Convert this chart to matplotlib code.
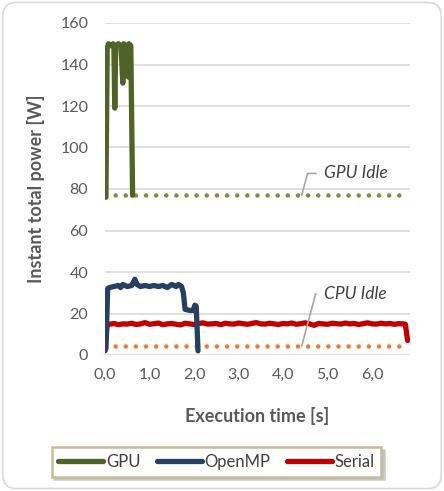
import matplotlib
matplotlib.use("Agg")
import matplotlib.pyplot as plt
from matplotlib.patches import FancyBboxPatch
from matplotlib.lines import Line2D

plt.rcParams['font.family'] = ['Lato', 'DejaVu Sans']

# GPU run
gpu_t = [0.0, 0.02, 0.05, 0.08, 0.12, 0.18, 0.2, 0.22, 0.24, 0.3, 0.36, 0.4, 0.42,
         0.48, 0.52, 0.54, 0.58, 0.62]
gpu_w = [77, 76, 148, 150, 149, 150, 148, 119, 149, 150, 149, 131, 150,
         149, 134, 150, 149, 77]

# OpenMP run
omp_t = [0.02, 0.06, 0.1, 0.2, 0.3, 0.35, 0.4, 0.5, 0.6, 0.67, 0.72, 0.8, 0.9, 1.0,
         1.1, 1.2, 1.3, 1.4, 1.5, 1.6, 1.65, 1.72, 1.76, 1.8, 1.9, 1.98, 2.02, 2.05, 2.09]
omp_w = [3, 32, 32.5, 33, 33.5, 32.5, 34, 33, 33.5, 36.5, 34, 33, 33.5, 33,
         33.5, 33, 33.5, 32.5, 34, 33, 34, 33, 30, 22, 21.5, 21.5, 24, 23.5, 2]

# Serial run
serial_mid = [14.8, 15.2, 14.6, 15.0, 14.9, 15.3, 14.7, 15.0, 15.6, 14.8, 15.1, 15.4,
              14.6, 15.0, 15.2, 14.8, 14.5, 15.3, 15.0, 14.7, 15.1, 15.5, 14.9, 15.0,
              15.2, 14.6, 15.3, 15.0, 14.9, 15.4, 15.1, 14.8, 15.2, 15.6, 15.0, 14.9,
              15.3, 15.0, 14.7, 15.2, 15.0, 15.4, 14.8, 15.1, 15.5, 15.0, 14.3, 15.2,
              15.0, 14.8, 15.3, 15.1, 14.9, 15.4, 15.0, 15.2, 14.7, 15.1, 15.5, 15.0,
              14.9, 15.3, 15.0, 15.2, 14.8, 15.1, 15.0]
serial_t = [0.0, 0.05] + [round(0.1 * (i + 1), 2) for i in range(len(serial_mid))] + [6.75, 6.8]
serial_w = [2.0, 15.0] + serial_mid + [14.8, 7.0]

# idle levels
idle_t = [0.0, 6.8]
gpu_idle = [77, 77]
cpu_idle = [4.3, 4.3]

fig = plt.figure(figsize=(4.44, 4.91), dpi=100)
fig.patches.append(FancyBboxPatch((0.006, 0.005), 0.988, 0.99, boxstyle="round,pad=0,rounding_size=0.03",
                                  transform=fig.transFigure, facecolor='white', edgecolor='#d9d9d9',
                                  linewidth=1.2, zorder=-10))

ax = fig.add_axes([105 / 444, 1 - 355 / 491, 305 / 444, 332 / 491])
ax.set_facecolor('none')

dot = (0, (0.01, 2.2))
ax.plot(idle_t, gpu_idle, color='#77933c', lw=3.3, linestyle=dot, dash_capstyle='round')
ax.plot(idle_t, cpu_idle, color='#ed7d31', lw=3.3, linestyle=dot, dash_capstyle='round')
ax.plot(serial_t, serial_w, color='#c00000', lw=3.8, solid_capstyle='round', solid_joinstyle='round')
ax.plot(omp_t, omp_w, color='#254061', lw=3.8, solid_capstyle='round', solid_joinstyle='round')
ax.plot(gpu_t, gpu_w, color='#4f6228', lw=3.8, solid_capstyle='round', solid_joinstyle='round')

ax.set_xlim(0, 305 / 44.5)
ax.set_ylim(0, 160)
ax.set_yticks(range(0, 161, 20))
ax.set_xticks(range(0, 7))
ax.set_xticklabels([f"{v},0" for v in range(0, 7)])
ax.grid(axis='y', color='#d9d9d9', lw=1.2)
ax.set_axisbelow(True)
for s in ax.spines.values():
    s.set_visible(False)
ax.tick_params(length=0, labelsize=11.5, colors='#595959')
ax.tick_params(axis='y', pad=12)
ax.tick_params(axis='x', pad=9)

ax.set_ylabel('Instant total power [W]', fontsize=13, fontweight='bold', color='#595959')
ax.yaxis.set_label_coords(-0.197, 0.5)
ax.set_xlabel('Execution time [s]', fontsize=13, fontweight='bold', color='#595959')
ax.xaxis.set_label_coords(0.5, -0.157)

# idle callouts
for lvl, txt, ty in [(77, 'GPU Idle', 87.5), (4.3, 'CPU Idle', 29.5)]:
    ax.annotate(txt, xy=(4.42, lvl), xytext=(4.93, ty), fontsize=12.5, style='italic',
                color='#404040', va='center', ha='left',
                arrowprops=dict(arrowstyle='-', color='#a6a6a6', lw=1.2,
                                connectionstyle='angle,angleA=0,angleB=75,rad=0',
                                shrinkA=4, shrinkB=0))

handles = [Line2D([], [], color='#4f6228', lw=3.8, solid_capstyle='round'),
           Line2D([], [], color='#254061', lw=3.8, solid_capstyle='round'),
           Line2D([], [], color='#c00000', lw=3.8, solid_capstyle='round')]
leg = fig.legend(handles, ['GPU', 'OpenMP', 'Serial'], loc='center',
                 bbox_to_anchor=(216.5 / 444, 1 - 462 / 491), ncol=3, fontsize=12,
                 frameon=True, fancybox=False, shadow={'color': '#bfbfbf', 'alpha': 0.8},
                 handlelength=2.7, handletextpad=0.15, columnspacing=1.0,
                 borderpad=0.4, borderaxespad=0, labelcolor='#404040')
leg.get_frame().set_edgecolor('#c4bd97')
leg.get_frame().set_linewidth(1.8)

fig.savefig('out.png', dpi=100)
